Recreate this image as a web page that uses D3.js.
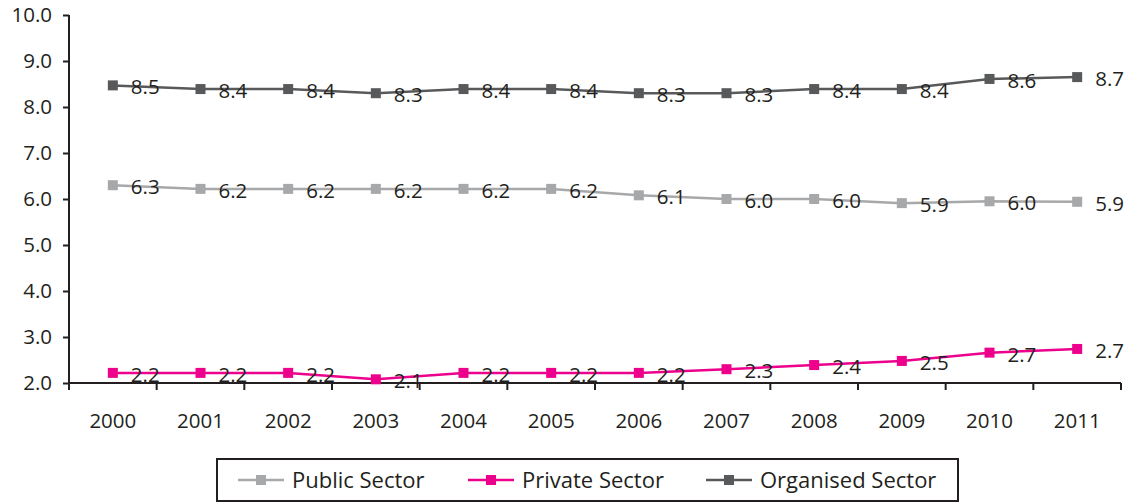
<!DOCTYPE html>
<html>
<head>
<meta charset="utf-8">
<script src="https://cdn.jsdelivr.net/npm/d3@7"></script>
<style>
  body { margin: 0; background: #fff; }
  text { font-family: "Open Sans", sans-serif; fill: #231f20; }
</style>
</head>
<body>
<div id="chart"></div>
<script>
// data
var years = ["2000", "2001", "2002", "2003", "2004", "2005", "2006", "2007", "2008", "2009", "2010", "2011"];
var publicSector    = [6.30, 6.22, 6.22, 6.22, 6.22, 6.22, 6.08, 6.00, 6.00, 5.91, 5.95, 5.94];
var privateSector   = [2.22, 2.22, 2.22, 2.08, 2.22, 2.22, 2.22, 2.30, 2.39, 2.48, 2.66, 2.74];
var organisedSector = [8.47, 8.39, 8.39, 8.30, 8.39, 8.39, 8.30, 8.30, 8.39, 8.39, 8.61, 8.65];
var yTicks = [2, 3, 4, 5, 6, 7, 8, 9, 10];

var seriesNames = ["Public Sector", "Private Sector", "Organised Sector"];
var seriesColors = ["#a7a8aa", "#ec008c", "#58595b"];
var seriesValues = [publicSector, privateSector, organisedSector];

// setup
var width = 1127, height = 504;
var svg = d3.select("#chart").append("svg")
    .attr("width", width)
    .attr("height", height);

var x = d3.scaleBand().domain(years).range([69, 1121]);
var y = d3.scaleLinear().domain([2, 10]).range([383, 15]);
var fmt = d3.format(".1f");

// axes
var yAxis = svg.append("g")
    .attr("transform", "translate(69,0)")
    .call(d3.axisLeft(y).tickValues(yTicks).tickFormat(fmt).tickSize(6).tickPadding(11));

var xAxis = svg.append("g")
    .attr("transform", "translate(0,383)")
    .call(d3.axisBottom(x).tickSize(0).tickPadding(30));

// ticks between categories
xAxis.selectAll("line.bound")
  .data(d3.range(years.length + 1))
  .enter().append("line")
    .attr("class", "bound")
    .attr("x1", function(i) { return 69 + i * x.step(); })
    .attr("x2", function(i) { return 69 + i * x.step(); })
    .attr("y1", 0).attr("y2", 7)
    .attr("stroke", "#231f20").attr("stroke-width", 2);

[yAxis, xAxis].forEach(function(a) {
  a.select(".domain").attr("stroke", "#231f20").attr("stroke-width", 2);
  a.selectAll(".tick line").attr("stroke", "#231f20").attr("stroke-width", 2);
  a.selectAll(".tick text").style("font-size", "20.5px").attr("fill", "#231f20");
});
yAxis.select(".domain").attr("d", "M0,15V383");
xAxis.select(".domain").attr("d", "M69,0H1121");

// lines, markers and labels
var line = d3.line()
  .x(function(d, i) { return x(years[i]) + x.bandwidth() / 2; })
  .y(function(d) { return y(d); });

seriesValues.forEach(function(vals, s) {
  var g = svg.append("g");
  g.append("path")
    .datum(vals)
    .attr("d", line)
    .attr("fill", "none")
    .attr("stroke", seriesColors[s])
    .attr("stroke-width", 2.5);

  g.selectAll("rect")
    .data(vals).enter().append("rect")
      .attr("x", function(d, i) { return x(years[i]) + x.bandwidth() / 2 - 5; })
      .attr("y", function(d) { return y(d) - 5; })
      .attr("width", 10).attr("height", 10)
      .attr("fill", seriesColors[s]);

  g.selectAll("text")
    .data(vals).enter().append("text")
      .attr("x", function(d, i) { return x(years[i]) + x.bandwidth() / 2 + 18; })
      .attr("y", function(d) { return y(d) + 9; })
      .style("font-size", "20.5px")
      .text(function(d) { return fmt(d); });
});

// legend
var legend = svg.append("g");
legend.append("rect")
  .attr("x", 217).attr("y", 459)
  .attr("width", 741).attr("height", 42)
  .attr("fill", "#fff").attr("stroke", "#231f20").attr("stroke-width", 2);

var legendX = [238, 468, 706];
seriesNames.forEach(function(name, s) {
  var lx = legendX[s];
  legend.append("line")
    .attr("x1", lx).attr("x2", lx + 46)
    .attr("y1", 480).attr("y2", 480)
    .attr("stroke", seriesColors[s]).attr("stroke-width", 2.5);
  legend.append("rect")
    .attr("x", lx + 18).attr("y", 475)
    .attr("width", 10).attr("height", 10)
    .attr("fill", seriesColors[s]);
  legend.append("text")
    .attr("x", lx + 54).attr("y", 488)
    .style("font-size", "22px")
    .text(name);
});
</script>
</body>
</html>
